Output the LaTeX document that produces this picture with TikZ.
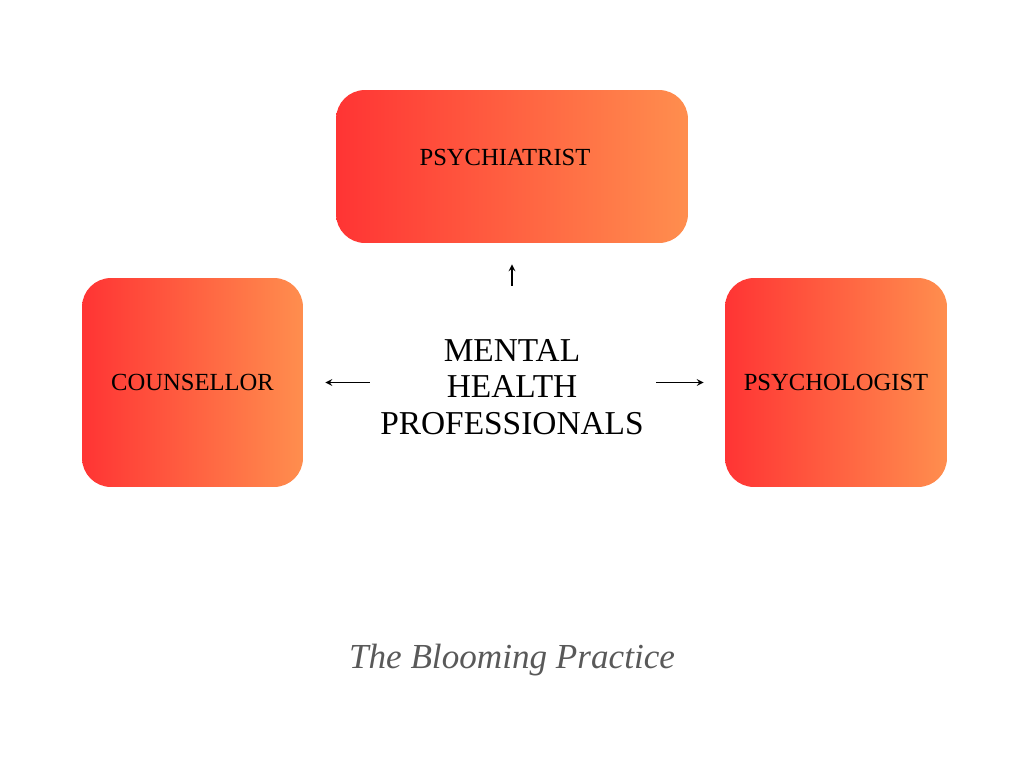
\documentclass[tikz,border=0pt]{standalone}
\usepackage{fontspec}
\setmainfont{Liberation Serif}
\usetikzlibrary{positioning}
\tikzset{>=stealth}
\definecolor{warmred}{HTML}{FF3434}
\definecolor{warmorange}{HTML}{FF8E4E}
\tikzset{
  rolebox/.style={rounded corners=0.58cm, left color=warmred, right color=warmorange,
    draw=none, inner sep=0pt, font=\fontsize{14}{16}\selectfont},
  rolename/.style={inner sep=0pt, font=\fontsize{14}{16}\selectfont},
  link/.style={->, line width=0.75pt}
}

\begin{document}
\begin{tikzpicture}[x=0.02cm,y=-0.02cm]
  \useasboundingbox (0,0) rectangle (1024,768);
  % the three professions
  \node[rolebox, minimum width=7.04cm, minimum height=3.06cm] (psychiatrist) at (512,166.5) {};
  \node[rolename] (psychiatrist-name) at ([shift={(-7,-9)}]psychiatrist) {PSYCHIATRIST};
  \node[rolebox, minimum width=4.42cm, minimum height=4.18cm] (counsellor) at (192.5,382.5) {COUNSELLOR};
  \node[rolebox, minimum width=4.44cm, minimum height=4.18cm] (psychologist) at (836,382.5) {PSYCHOLOGIST};

  % centre text
  \node[align=center, inner sep=0pt, font=\fontsize{19}{20.8}\selectfont] (professionals) at (512,387)
    {MENTAL\\HEALTH\\PROFESSIONALS};

  \draw[link, shorten <=1.06cm, shorten >=0.42cm](professionals.north) -- (psychiatrist.south);
  \draw[link, shorten <=0.2cm, shorten >=0.44cm](professionals.west |- counsellor) -- (counsellor);
  \draw[link, shorten <=0.24cm, shorten >=0.42cm](professionals.east |- psychologist) -- (psychologist);

  \node[font=\itshape\fontsize{20}{22}\selectfont, text=black!65] (signature) at (512,660) {The Blooming Practice};
\end{tikzpicture}
\end{document}
